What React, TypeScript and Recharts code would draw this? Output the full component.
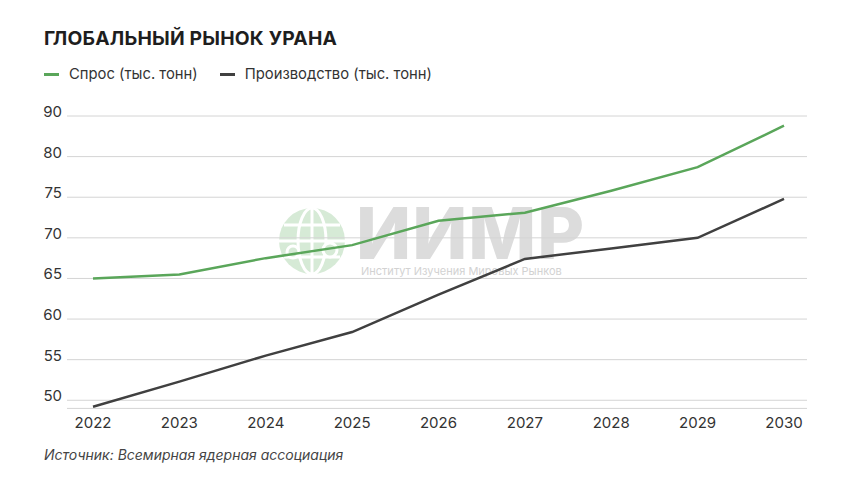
import React from 'react';
import { CartesianGrid, Line, LineChart, XAxis, YAxis } from 'recharts';

const years = ['2022', '2023', '2024', '2025', '2026', '2027', '2028', '2029', '2030'];
const demand = [65.0, 65.5, 67.5, 69.1, 72.1, 73.1, 75.8, 78.7, 83.8];
const production = [49.2, 52.3, 55.5, 58.4, 63.0, 67.4, 68.7, 70.0, 74.8];
const yTicks = [50, 55, 60, 65, 70, 75, 80, 85];
// the source picture labels the top gridline "90"
const yTickLabels = ['50', '55', '60', '65', '70', '75', '80', '90'];

const FONT = 'Inter, "DejaVu Sans", sans-serif';
const GREEN = '#5aa65a';
const DARK = '#404040';

const data = years.map((year, i) => ({ year, demand: demand[i], production: production[i] }));

const YTick = (props: any) => {
  const { y, payload } = props;
  const idx = yTicks.indexOf(payload.value);
  return (
    <text x={62} y={y + 1} textAnchor="end" fontFamily={FONT} fontSize={15} fill="#333">
      {yTickLabels[idx]}
    </text>
  );
};

const XTick = (props: any) => {
  const { x, payload } = props;
  return (
    <text x={x} y={428} textAnchor="middle" fontFamily={FONT} fontSize={15} fill="#333">
      {payload.value}
    </text>
  );
};

function Globe() {
  return (
    <svg width={70} height={70} viewBox="0 0 70 70" style={{ position: 'absolute', left: 277, top: 206 }}>
      <circle cx={35} cy={35} r={33} fill="#d6ead6" />
      <ellipse cx={35} cy={35} rx={14} ry={33} fill="none" stroke="#fff" strokeWidth={3} />
      <line x1={35} y1={2} x2={35} y2={68} stroke="#fff" strokeWidth={3} />
      <line x1={2} y1={35} x2={68} y2={35} stroke="#fff" strokeWidth={3} />
      <line x1={7} y1={19} x2={63} y2={19} stroke="#fff" strokeWidth={3} />
      <line x1={7} y1={51} x2={63} y2={51} stroke="#fff" strokeWidth={3} />
      <circle cx={53} cy={44} r={7} fill="#d6ead6" stroke="#fff" strokeWidth={3} />
      <circle cx={16} cy={46} r={6} fill="#d6ead6" stroke="#fff" strokeWidth={3} />
    </svg>
  );
}

export default function App() {
  return (
    <div
      style={{
        position: 'absolute',
        left: 0,
        top: 0,
        width: 860,
        height: 484,
        background: '#fff',
        fontFamily: FONT,
        overflow: 'hidden',
      }}
    >
      <div
        style={{
          position: 'absolute',
          left: 44,
          top: 26,
          fontSize: 19.3,
          fontWeight: 700,
          color: '#1e1e1e',
          letterSpacing: 0.2,
        }}
      >
        ГЛОБАЛЬНЫЙ РЫНОК УРАНА
      </div>

      <div
        style={{
          position: 'absolute',
          left: 44,
          top: 65,
          display: 'flex',
          alignItems: 'center',
          fontSize: 14.8,
          color: '#333',
        }}
      >
        <span style={{ width: 15, height: 3, background: GREEN, marginRight: 10 }} />
        <span>Спрос (тыс. тонн)</span>
        <span style={{ width: 15, height: 3, background: DARK, marginLeft: 22, marginRight: 10 }} />
        <span>Производство (тыс. тонн)</span>
      </div>

      {/* watermark */}
      <Globe />
      <div
        style={{
          position: 'absolute',
          left: 356,
          top: 206,
          fontSize: 72,
          lineHeight: '54px',
          fontWeight: 800,
          color: '#dcdcdc',
          letterSpacing: 1,
        }}
      >
        ИИМР
      </div>
      <div
        style={{
          position: 'absolute',
          left: 361,
          top: 265,
          fontSize: 11,
          lineHeight: '13px',
          color: '#d2d2d2',
        }}
      >
        Институт Изучения Мировых Рынков
      </div>

      <div style={{ position: 'absolute', left: 0, top: 0 }}>
        <LineChart
          width={860}
          height={484}
          data={data}
          margin={{ top: 116, right: 53, bottom: 45.6, left: 0 }}
        >
          <CartesianGrid vertical={false} stroke="#d4d4d4" strokeWidth={1} />
          <XAxis
            dataKey="year"
            axisLine={false}
            tickLine={false}
            padding={{ left: 26, right: 23 }}
            tick={<XTick />}
            interval={0}
            height={30}
          />
          <YAxis
            type="number"
            domain={[49, 85]}
            ticks={yTicks}
            allowDataOverflow
            axisLine={false}
            tickLine={false}
            width={67}
            tick={<YTick />}
          />
          <Line
            type="linear"
            dataKey="demand"
            stroke={GREEN}
            strokeWidth={2.5}
            dot={false}
            isAnimationActive={false}
          />
          <Line
            type="linear"
            dataKey="production"
            stroke={DARK}
            strokeWidth={2.5}
            dot={false}
            isAnimationActive={false}
          />
        </LineChart>
      </div>

      <div
        style={{
          position: 'absolute',
          left: 44,
          top: 446,
          fontSize: 14,
          fontStyle: 'italic',
          color: '#444',
        }}
      >
        Источник: Всемирная ядерная ассоциация
      </div>
    </div>
  );
}
